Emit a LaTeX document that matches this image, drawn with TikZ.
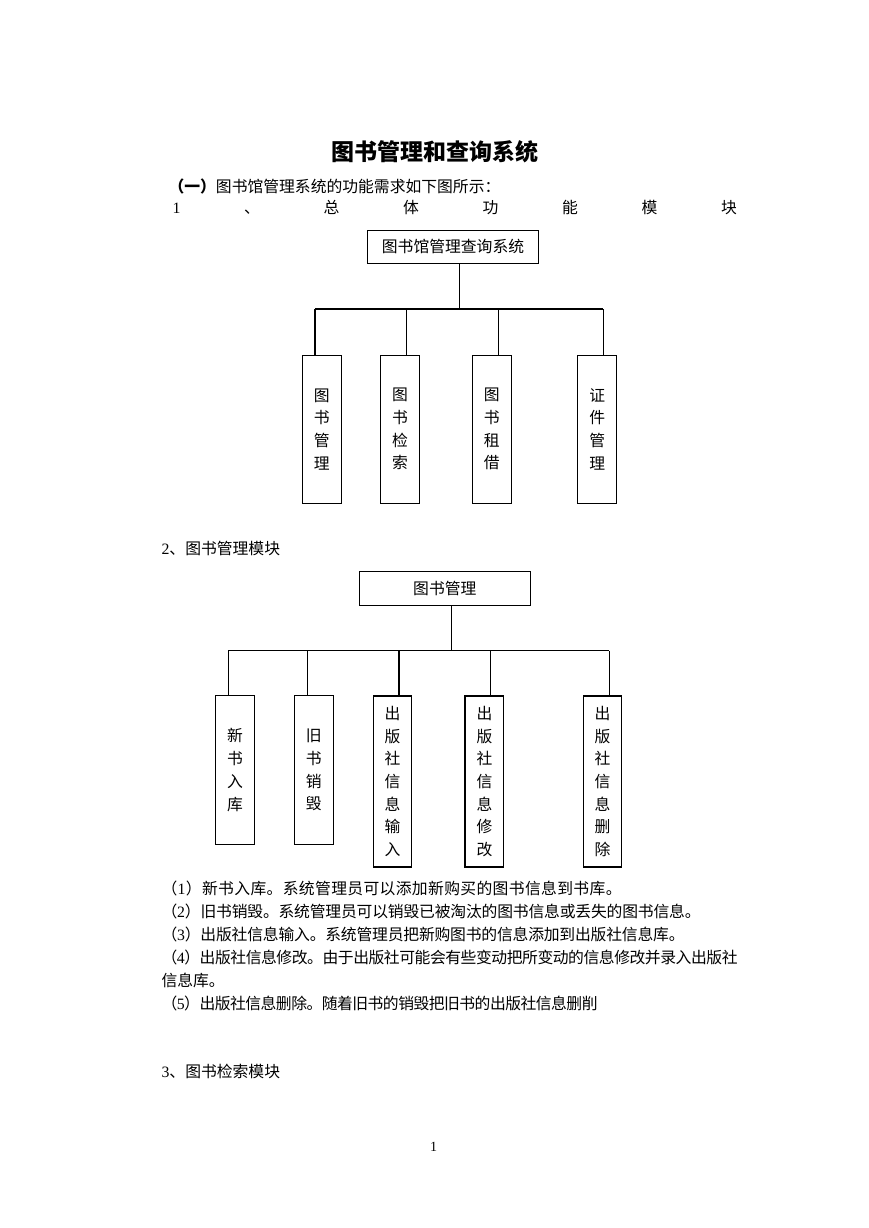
\documentclass[tikz,border=0pt]{standalone}
\usepackage{fontspec}
\setmainfont{Noto Sans CJK SC}
\newfontfamily\dg{Liberation Serif}
\ExplSyntaxOn
\bool_new:N \l_my_first_bool
\NewDocumentCommand \fitline { m m }
  {
    \makebox[#1][s]
      {
        \bool_set_true:N \l_my_first_bool
        \tl_map_inline:nn {#2}
          {
            \bool_if:NTF \l_my_first_bool
              { \bool_set_false:N \l_my_first_bool }
              { \hskip 0pt plus 1fil minus 2pt }
            ##1
          }
      }
  }
\ExplSyntaxOff
\begin{document}
\begin{tikzpicture}[x=1pt,y=-1pt,line width=1.1pt,
  txt/.style={inner sep=0pt,font=\fontsize{15.8}{22.7}\selectfont},
  tl/.style={txt,anchor=west,text height=13.9pt,text depth=1.9pt},
  hbox/.style={draw,inner sep=0pt,font=\fontsize{15.8}{22.7}\selectfont},
  vbox/.style={draw,inner sep=0pt,align=center,font=\fontsize{15.8}{22.7}\selectfont,minimum width=38.8pt},
  vshort/.style={vbox,minimum height=148.3pt},
  vlong/.style={vbox,minimum height=171pt},
  conn/.style={line width=1.1pt}
]
\useasboundingbox (0,0) rectangle (869,1228);

% headings
\node[inner sep=0pt,font=\bfseries\fontsize{23}{28}\selectfont,text height=20.2pt,text depth=2.8pt] (title) at (435,151.7) {图书管理和查询系统};
\node[tl] (intro) at (168,186) {{\bfseries （一）}图书馆管理系统的功能需求如下图所示：};
\node[tl] (h1) at (172,207) {\makebox[564.4pt][s]{{\dg 1}\hfil 、\hfil 总\hfil 体\hfil 功\hfil 能\hfil 模\hfil 块}};

% diagram 1
\node[hbox,minimum width=170.6pt,minimum height=33.3pt] (top1) at (453,246.7) {图书馆管理查询系统};
\coordinate (s1) at (459.3,309);
\draw[conn] (top1.south -| s1) -- (s1);
\node[vshort] (a1) at (321.7,429.2) {图\\书\\管\\理};
\node[vshort] (a2) at (400,429.2) {图\\书\\检\\索};
\node[vshort] (a3) at (491.7,429.2) {图\\书\\租\\借};
\node[vshort] (a4) at (597.2,429.2) {证\\件\\管\\理};
\coordinate (j1) at (315,309);
\coordinate (j2) at (406.7,309);
\coordinate (j3) at (498.7,309);
\coordinate (j4) at (603.3,309);
\draw[conn] (j1) -- (j4);
\foreach \i in {1,...,4} \draw[conn] (j\i) -- (j\i |- a\i.north);

% section 2
\node[tl] (h2) at (161,548) {{\dg 2}、图书管理模块};
\node[hbox,minimum width=171pt,minimum height=34pt] (top2) at (444.8,588.3) {图书管理};
\coordinate (s2) at (451.7,650.7);
\draw[conn] (top2.south -| s2) -- (s2);
\node[vshort] (b1) at (235,770) {新\\书\\入\\库};
\node[vshort] (b2) at (313.7,770) {旧\\书\\销\\毁};
\node[vlong] (b3) at (392.5,781.5) {出\\版\\社\\信\\息\\输\\入};
\node[vlong] (b4) at (484.4,781.5) {出\\版\\社\\信\\息\\修\\改};
\node[vlong] (b5) at (602.5,781.5) {出\\版\\社\\信\\息\\删\\除};
\coordinate (k1) at (228.3,650.7);
\coordinate (k2) at (307.3,650.7);
\coordinate (k3) at (399,650.7);
\coordinate (k4) at (490.7,650.7);
\coordinate (k5) at (609.3,650.7);
\draw[conn] (k1) -- (k5);
\foreach \i in {1,...,5} \draw[conn] (k\i) -- (k\i |- b\i.north);

% body text
\node[tl] (p1) at (161,888) {\fitline{460pt}{（{{\dg 1}}）新书入库。系统管理员可以添加新购买的图书信息到书库。}};
\node[tl] (p2) at (161,911) {\fitline{539pt}{（{{\dg 2}}）旧书销毁。系统管理员可以销毁已被淘汰的图书信息或丢失的图书信息。}};
\node[tl] (p3) at (161,934) {\fitline{523pt}{（{{\dg 3}}）出版社信息输入。系统管理员把新购图书的信息添加到出版社信息库。}};
\node[tl] (p4) at (161,957) {\fitline{576pt}{（{{\dg 4}}）出版社信息修改。由于出版社可能会有些变动把所变动的信息修改并录入出版社}};
\node[tl] (p4b) at (161,980) {信息库。};
\node[tl] (p5) at (161,1003) {\fitline{436pt}{（{{\dg 5}}）出版社信息删除。随着旧书的销毁把旧书的出版社信息删削}};

\node[tl] (h3) at (161,1071.5) {{\dg 3}、图书检索模块};
\node[inner sep=0pt,font=\dg\fontsize{14}{16}\selectfont] (pg) at (433.5,1147) {1};
\end{tikzpicture}
\end{document}
